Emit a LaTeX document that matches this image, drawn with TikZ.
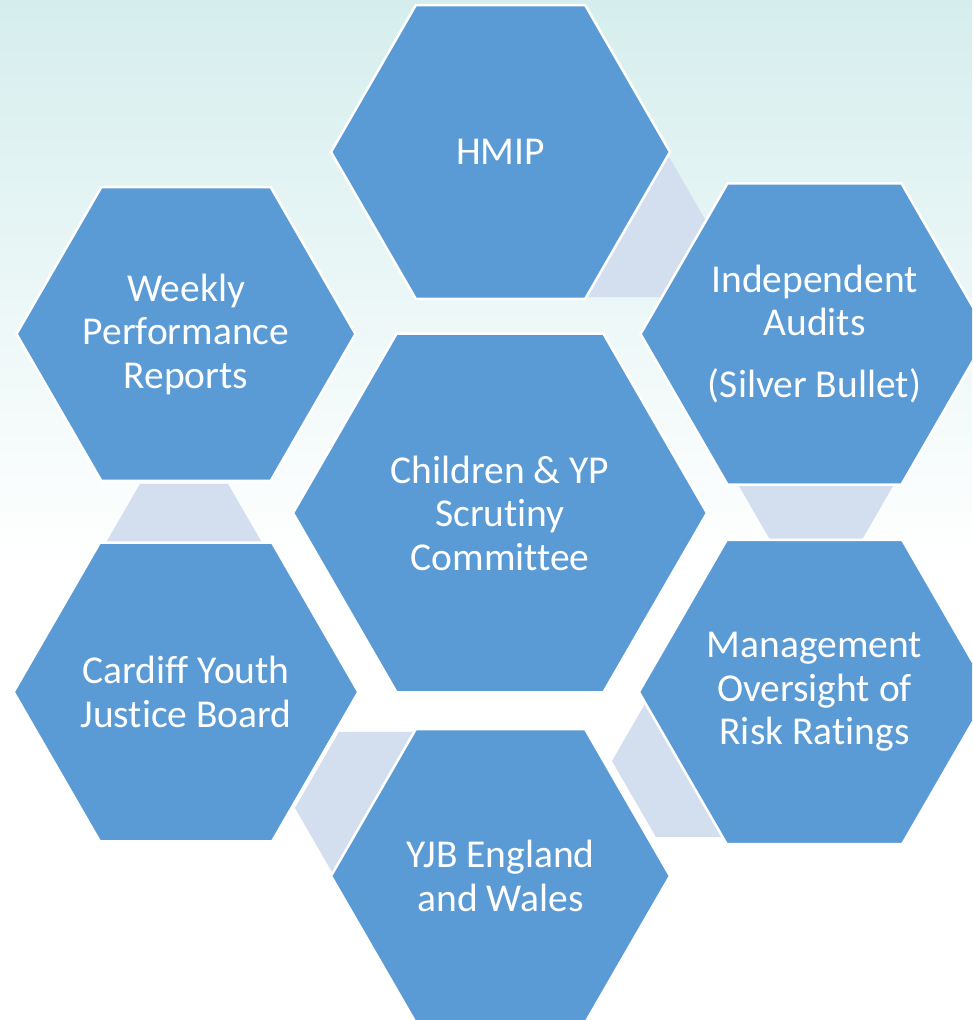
\documentclass[tikz,border=0pt]{standalone}
\usepackage{fontspec}
\setmainfont[RawFeature={-liga;-clig;-calt;-dlig}]{Carlito}
\usepackage{xcolor}
\usepackage{tikz}
\usetikzlibrary{shapes.geometric}

\definecolor{hexblue}{HTML}{5B9BD5}
\definecolor{linkgrey}{HTML}{D3DEEF}
\definecolor{skyteal}{HTML}{D5EEED}

\begin{document}
\begin{tikzpicture}[
  x=1pt, y=-1pt,
  hexa/.style={regular polygon, regular polygon sides=6, draw=white,
               line width=2.5pt, fill=hexblue, text=white, inner sep=0pt,
               align=center, font=\fontsize{39.5}{43.5}\selectfont,
               minimum size=339pt},
  hexcentre/.style={hexa, minimum size=414pt},
  link/.style={regular polygon, regular polygon sides=6, fill=linkgrey,
               inner sep=0pt, minimum size=176pt},
]
  \useasboundingbox (0,0) rectangle (972,1020);
  \clip (0,0) rectangle (972,1020);
  \fill[white] (0,0) rectangle (972,1020);
  \shade[top color=skyteal, bottom color=white] (0,0) rectangle (972,560);

  % small linking hexagons, mostly hidden
  \node[link] (hmipaudit) at (618,221) {};
  \node[link] (auditrisk) at (816,467) {};
  \node[link] (riskyjb)   at (700,761) {};
  \node[link] (yjbboard)  at (383,808) {};
  \node[link] (boardweek) at (184,560) {};

  \node[hexcentre] (scrutiny) at (500,513)
    {Children \& YP\\Scrutiny\\Committee};
  \node[hexa] (hmip)   at (500.5,152) {HMIP};
  \node[hexa] (audits) at (814.5,334)
    {Independent\\Audits\\[18pt](Silver Bullet)};
  \node[hexa] (risk)   at (814.5,692)
    {Management\\Oversight of\\Risk Ratings};
  \node[hexa] (yjb)    at (500.5,876) {YJB England\\and Wales};
  \node[hexa] (board)  at (186,692) {Cardiff Youth\\Justice Board};
  \node[hexa] (weekly) at (186,334) {Weekly\\Performance\\Reports};
\end{tikzpicture}
\end{document}
